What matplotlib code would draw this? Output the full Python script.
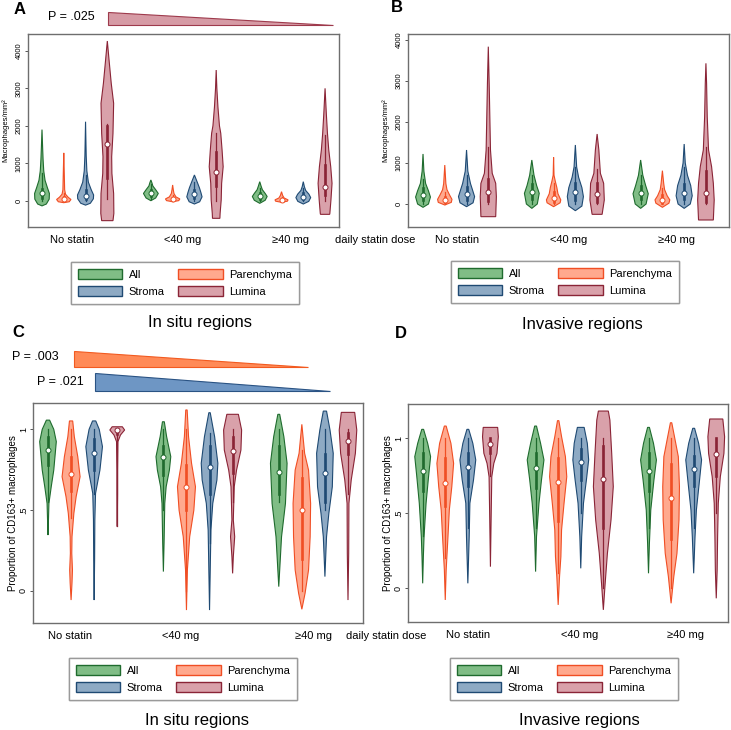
import matplotlib
matplotlib.use("Agg")
import matplotlib.pyplot as plt
from matplotlib.patches import Patch, Polygon

plt.rcParams['font.family'] = ['Liberation Sans', 'DejaVu Sans']

W, H = 731, 730

# ---- categories ----------------------------------------------------------
groups = ['No statin', '<40 mg', '≥40 mg']
series = ['All', 'Parenchyma', 'Stroma', 'Lumina']
pos = [1, 2, 3, 4, 6, 7, 8, 9, 11, 12, 13, 14]

fills = ['#80bd86', '#ffa98e', '#8eaac4', '#d9a1aa']
edges = ['#1f6b2e', '#f04e24', '#1f4a73', '#8a2436']

# ---- A: in situ, macrophages/mm2 ----------------------------------------
a_med = [210, 62, 133, 1508, 205, 53, 177, 780, 133, 18, 115, 364]
a_q1 = [80, 20, 60, 600, 120, 20, 80, 400, 50, 0, 40, 150]
a_q3 = [330, 110, 300, 2000, 300, 80, 300, 1300, 220, 50, 200, 950]
a_lo = [0, 0, 0, 40, 50, 0, 0, 0, 0, 0, 0, 0]
a_hi = [750, 200, 700, 2060, 450, 150, 500, 1800, 350, 100, 350, 1750]
a_prof = [
    [(-130, 0), (-80, .2), (50, .33), (200, .34), (350, .25), (550, .14), (800, .08), (1100, .05), (1400, .03), (1900, 0)],
    [(-45, 0), (-20, .25), (40, .33), (100, .2), (180, .08), (300, .04), (550, .03), (800, .02), (1280, 0)],
    [(-110, 0), (-60, .22), (60, .36), (160, .37), (300, .26), (500, .13), (800, .06), (1200, .03), (2110, 0)],
    [(-523, .26), (-330, .3), (200, .29), (736, .21), (1180, .2), (1800, .26), (2600, .29), (3130, .18), (3750, .08), (4257, 0)],
    [(8, 0), (80, .22), (200, .34), (300, .22), (400, .09), (480, .05), (560, 0)],
    [(-20, 0), (10, .28), (55, .33), (110, .15), (200, .06), (300, .03), (426, 0)],
    [(-80, 0), (-20, .24), (110, .35), (220, .3), (350, .23), (500, .13), (692, 0)],
    [(-461, .17), (-330, .18), (27, .23), (470, .25), (913, .32), (1357, .27), (1800, .21), (2000, .15), (2500, .08), (3000, .03), (3485, 0)],
    [(-62, 0), (20, .25), (120, .34), (200, .25), (300, .12), (400, .06), (514, 0)],
    [(-35, 0), (-5, .27), (30, .3), (80, .12), (150, .05), (248, 0)],
    [(-80, 0), (-10, .25), (90, .34), (180, .26), (280, .11), (380, .05), (514, 0)],
    [(-355, .21), (-330, .22), (27, .27), (470, .32), (913, .26), (1357, .17), (1800, .11), (2300, .06), (2998, 0)],
]

# ---- B: invasive, macrophages/mm2 ---------------------------------------
b_med = [220, 98, 236, 285, 285, 138, 285, 236, 276, 89, 276, 276]
b_q1 = [100, 40, 100, 80, 130, 50, 100, 60, 130, 30, 120, 50]
b_q3 = [380, 180, 420, 600, 480, 300, 500, 500, 450, 230, 480, 800]
b_lo = [0] * 12
b_hi = [600, 300, 700, 1400, 700, 500, 900, 850, 700, 400, 900, 1400]
b_prof = [
    [(-81, 0), (0, .25), (170, .34), (320, .25), (500, .12), (800, .04), (1220, 0)],
    [(-24, 0), (40, .3), (114, .33), (220, .22), (350, .1), (500, .05), (950, 0)],
    [(-65, 0), (30, .3), (180, .37), (350, .27), (500, .18), (800, .06), (1317, 0)],
    [(-309, .34), (179, .37), (504, .34), (748, .18), (1317, .1), (2130, .07), (2943, .04), (3837, 0)],
    [(-106, 0), (0, .25), (260, .34), (450, .22), (700, .1), (1073, 0)],
    [(-65, 0), (30, .3), (100, .33), (250, .2), (400, .15), (550, .08), (700, .02), (1138, 0)],
    [(-163, 0), (-50, .3), (180, .37), (400, .3), (650, .15), (900, .06), (1439, 0)],
    [(-252, .23), (98, .33), (504, .3), (748, .15), (1317, .08), (1707, 0)],
    [(-106, 0), (0, .25), (250, .35), (450, .23), (700, .1), (1073, 0)],
    [(-81, 0), (20, .3), (100, .34), (200, .22), (350, .1), (500, .06), (813, 0)],
    [(-106, 0), (0, .28), (200, .37), (450, .3), (700, .15), (1000, .05), (1463, 0)],
    [(-390, .34), (98, .38), (504, .34), (910, .26), (1317, .12), (2130, .06), (2943, .03), (3431, 0)],
]

# ---- C: in situ, proportion CD163+ --------------------------------------
c_med = [.872, .722, .852, .994, .827, .641, .765, .866, .738, .501, .732, .93]
c_q1 = [.78, .62, .75, .97, .72, .5, .6, .73, .6, .2, .55, .85]
c_q3 = [.95, .83, .94, 1.0, .9, .78, .9, .95, .9, .7, .85, .98]
c_lo = [.55, .45, .6, .4, .5, 0, .3, .55, .55, 0, .5, .6]
c_hi = [1, 1, 1, 1, 1, 1, .98, 1, 1, .87, 1, 1]
c_prof = [
    [(.346, 0), (.44, .02), (.542, .04), (.645, .14), (.748, .25), (.924, .36), (1.0, .25), (1.057, .07)],
    [(-.056, 0), (.05, .04), (.13, .06), (.233, .03), (.336, .04), (.48, .12), (.584, .22), (.707, .39), (.831, .29), (.955, .14), (1.052, .07)],
    [(-.056, 0), (.2, .02), (.44, .03), (.604, .06), (.748, .25), (.893, .36), (1.0, .22), (1.052, .07)],
    [(.398, 0), (.6, .015), (.748, .015), (.924, .03), (.965, .14), (.996, .32), (1.016, .22)],
    [(.12, 0), (.3, .03), (.542, .06), (.645, .12), (.748, .26), (.831, .32), (.955, .14), (1.047, .04)],
    [(-.118, 0), (.13, .04), (.336, .14), (.5, .32), (.645, .39), (.79, .22), (.955, .09), (1.12, .03)],
    [(-.118, 0), (.13, .03), (.377, .06), (.542, .14), (.687, .32), (.79, .36), (.955, .22), (1.103, .03)],
    [(.109, 0), (.212, .03), (.336, .09), (.44, .03), (.645, .07), (.748, .17), (.872, .36), (.996, .39), (1.093, .25)],
    [(.027, 0), (.13, .04), (.336, .12), (.542, .29), (.79, .36), (.955, .22), (1.093, .04)],
    [(-.113, 0), (-.014, .14), (.13, .29), (.336, .36), (.542, .38), (.748, .29), (.852, .12), (1.031, 0)],
    [(.089, 0), (.233, .04), (.336, .07), (.48, .17), (.645, .32), (.852, .36), (.996, .22), (1.113, .07)],
    [(-.056, 0), (.233, .03), (.542, .04), (.687, .14), (.852, .32), (.996, .38), (1.105, .29)],
]

# ---- D: invasive, proportion CD163+ -------------------------------------
d_med = [.784, .7, .807, .962, .8, .707, .842, .729, .784, .604, .793, .893]
d_q1 = [.65, .55, .68, .9, .67, .45, .72, .4, .65, .33, .68, .75]
d_q3 = [.9, .87, .9, 1.0, .9, .87, .93, .95, .9, .83, .88, 1.0]
d_lo = [.35, .2, .4, .75, .4, .1, .5, 0, .4, 0, .4, .5]
d_hi = [1] * 12
d_prof = [
    [(.033, 0), (.211, .03), (.344, .06), (.567, .15), (.744, .26), (.878, .35), (.967, .22), (1.06, .04)],
    [(-.078, 0), (.122, .04), (.344, .12), (.522, .18), (.678, .29), (.833, .37), (.967, .25), (1.082, .04)],
    [(.033, 0), (.344, .06), (.567, .09), (.722, .25), (.856, .35), (.967, .22), (1.06, .04)],
    [(.144, 0), (.456, .03), (.744, .06), (.833, .15), (.9, .29), (1.011, .35), (1.073, .32)],
    [(.111, 0), (.344, .04), (.567, .15), (.722, .26), (.856, .37), (.967, .22), (1.082, .04)],
    [(-.111, 0), (.078, .06), (.211, .12), (.389, .15), (.567, .26), (.744, .38), (.878, .32), (1.011, .15), (1.118, .03)],
    [(.133, 0), (.344, .04), (.567, .12), (.722, .25), (.856, .35), (.967, .29), (1.073, .15)],
    [(-.144, 0), (.011, .07), (.233, .18), (.456, .34), (.678, .44), (.9, .37), (1.122, .29), (1.182, .22)],
    [(.1, 0), (.3, .04), (.522, .1), (.722, .24), (.856, .35), (.967, .22), (1.073, .04)],
    [(-.1, 0), (.078, .12), (.233, .26), (.456, .35), (.678, .37), (.878, .32), (1.011, .15), (1.104, .03)],
    [(.1, 0), (.344, .06), (.522, .12), (.722, .26), (.856, .35), (.967, .22), (1.067, .04)],
    [(-.067, 0), (.122, .04), (.344, .06), (.567, .09), (.744, .18), (.9, .34), (1.011, .37), (1.129, .29)],
]

# x positions (data units) where the group labels sit
a_labpos = [2.38, 7.48, 12.39]
b_labpos = [2.56, 7.71, 12.67]
c_labpos = [1.95, 6.76, 12.52]
d_labpos = [3.0, 7.97, 12.66]

p_values = ['P = .025', 'P = .003', 'P = .021']


def fx(px):
    return px / W


def fy(py):
    return 1 - py / H


def make_ax(fig, l, t, r, b):
    return fig.add_axes([fx(l), fy(b), (r - l) / W, (b - t) / H])


def draw_violins(ax, med, q1, q3, lo, hi, prof):
    for i, p in enumerate(pos):
        c = i % 4
        ys = [v for v, w in prof[i]]
        ws = [w for v, w in prof[i]]
        xs = [p - w for w in ws] + [p + w for w in ws[::-1]]
        ax.fill(xs, ys + ys[::-1], facecolor=fills[c], edgecolor=edges[c], lw=0.8, zorder=2)
        ax.plot([p, p], [lo[i], hi[i]], color=edges[c], lw=0.9, zorder=3)
        ax.plot([p, p], [q1[i], q3[i]], color=edges[c], lw=1.9, zorder=3)
        ax.plot(p, med[i], 'o', mfc='white', mec=edges[c], ms=3.6, mew=0.7, zorder=4)


def style_ax(ax, xlim, ylim, yticks, yticklabels, ylabel, labpos, ylab_x, ysize, lsize):
    ax.set_xlim(*xlim)
    ax.set_ylim(*ylim)
    ax.set_yticks(yticks)
    ax.set_yticklabels(yticklabels, rotation=90, va='center', fontsize=ysize)
    ax.set_xticks(labpos)
    ax.set_xticklabels(groups, fontsize=8)
    ax.tick_params(axis='x', length=0, pad=5.5)
    ax.tick_params(axis='y', length=2.2, pad=1.5, color='#555555', width=0.7)
    ax.set_ylabel(ylabel, fontsize=lsize)
    ax.yaxis.set_label_coords(ylab_x, 0.5)
    for s in ax.spines.values():
        s.set_color('#6e6e6e')
        s.set_linewidth(1.0)


fig = plt.figure(figsize=(W / 100, H / 100), dpi=100)

axA = make_ax(fig, 28, 34, 339, 227)
draw_violins(axA, a_med, a_q1, a_q3, a_lo, a_hi, a_prof)
style_ax(axA, (0.357, 14.64), (-692, 4444), [0, 1000, 2000, 3000, 4000],
         ['0', '1000', '2000', '3000', '4000'], 'Macrophages/mm²', a_labpos, -0.06, 5.5, 5.5)

axB = make_ax(fig, 408, 34, 729, 227)
draw_violins(axB, b_med, b_q1, b_q3, b_lo, b_hi, b_prof)
style_ax(axB, (0.31, 15.06), (-561, 4146), [0, 1000, 2000, 3000, 4000],
         ['0', '1000', '2000', '3000', '4000'], 'Macrophages/mm²', b_labpos, -0.058, 5.5, 5.5)

axC = make_ax(fig, 33, 403, 363, 623)
draw_violins(axC, c_med, c_q1, c_q3, c_lo, c_hi, c_prof)
style_ax(axC, (0.35, 14.65), (-0.198, 1.163), [0, 0.5, 1], ['0', '.5', '1'],
         'Proportion of CD163+ macrophages', c_labpos, -0.045, 6.5, 7)

axD = make_ax(fig, 408, 404, 728, 622)
draw_violins(axD, d_med, d_q1, d_q3, d_lo, d_hi, d_prof)
style_ax(axD, (0.35, 14.52), (-0.225, 1.229), [0, 0.5, 1], ['0', '.5', '1'],
         'Proportion of CD163+ macrophages', d_labpos, -0.047, 6.5, 7)

# axis captions between panels
fig.text(fx(375), fy(240), 'daily statin dose', fontsize=8, ha='center', va='center')
fig.text(fx(386), fy(636), 'daily statin dose', fontsize=8, ha='center', va='center')

# legends
handles = [Patch(facecolor=fills[0], edgecolor=edges[0], lw=1, label=series[0]),
           Patch(facecolor=fills[2], edgecolor=edges[2], lw=1, label=series[2]),
           Patch(facecolor=fills[1], edgecolor=edges[1], lw=1, label=series[1]),
           Patch(facecolor=fills[3], edgecolor=edges[3], lw=1, label=series[3])]
for cx, cy in [(185, 283), (565, 282), (183, 679), (564, 679)]:
    leg = fig.legend(handles=handles, ncol=2, loc='center', bbox_to_anchor=(fx(cx), fy(cy)),
                     fontsize=8, handlelength=4.0, handleheight=1.0, handletextpad=0.6,
                     columnspacing=1.2, labelspacing=0.62, borderpad=0.6,
                     fancybox=False, framealpha=1, edgecolor='#9a9a9a')
    leg.get_frame().set_linewidth(1.0)
    fig.add_artist(leg)

fig.text(fx(200), fy(323), 'In situ regions', fontsize=12, ha='center', va='center')
fig.text(fx(582), fy(325), 'Invasive regions', fontsize=12, ha='center', va='center')
fig.text(fx(197), fy(721), 'In situ regions', fontsize=12, ha='center', va='center')
fig.text(fx(579), fy(721), 'Invasive regions', fontsize=12, ha='center', va='center')

# panel letters
fig.text(fx(20), fy(9), 'A', fontsize=12, fontweight='bold', ha='center', va='center')
fig.text(fx(397), fy(8), 'B', fontsize=12, fontweight='bold', ha='center', va='center')
fig.text(fx(18), fy(333), 'C', fontsize=12, fontweight='bold', ha='center', va='center')
fig.text(fx(401), fy(334), 'D', fontsize=12, fontweight='bold', ha='center', va='center')

# trend wedges with p-values
wedges = [((108, 12, 25, 333), '#d69ba5', '#9e3a4c', (71, 17)),
          ((74, 351, 367, 308), '#ff8a57', '#f25a20', (35, 357)),
          ((95, 373, 391, 330), '#6e96c4', '#2a5384', (60, 382))]
for txt, ((x0, top, bot, x1), fc, ec, (tx, ty)) in zip(p_values, wedges):
    tri = Polygon([(fx(x0), fy(top)), (fx(x0), fy(bot)), (fx(x1), fy(bot))],
                  closed=True, transform=fig.transFigure, facecolor=fc, edgecolor=ec, lw=0.8)
    fig.add_artist(tri)
    fig.text(fx(tx), fy(ty), txt, fontsize=9, ha='center', va='center')

fig.savefig('out.png', dpi=100)
